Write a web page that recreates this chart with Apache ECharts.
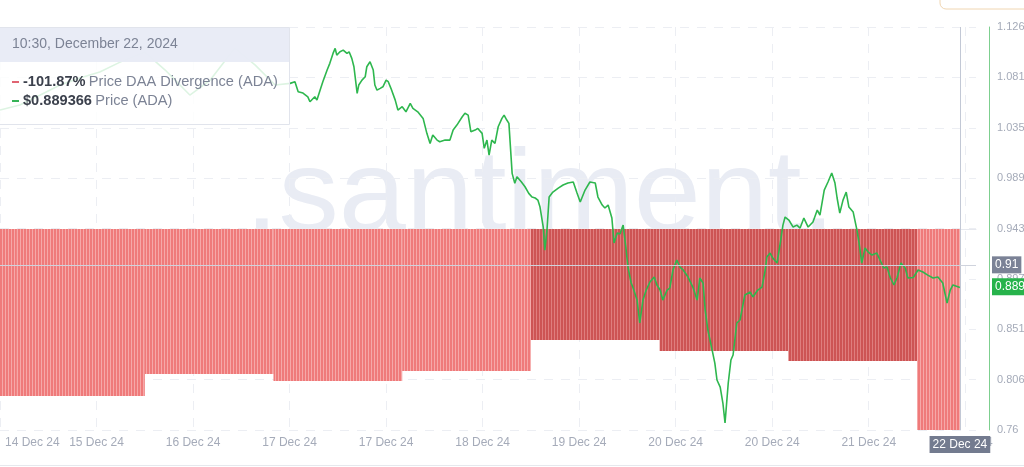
<!DOCTYPE html>
<html><head><meta charset="utf-8">
<script src="https://cdn.jsdelivr.net/npm/echarts@6/dist/echarts.min.js"></script>
<style>html,body{margin:0;padding:0;background:#fff;overflow:hidden}#c{width:1024px;height:467px}</style>
</head><body><div id="c"></div><script>
// time origin of the x axis (hours are counted from here, UTC used as display time)
const START_UTC = Date.UTC(2024, 11, 14, 23, 30);
const X_TICK_HOURS = 18;
const X_MAX_HOURS = 182;
const MONTHS = ['Jan','Feb','Mar','Apr','May','Jun','Jul','Aug','Sep','Oct','Nov','Dec'];

// right axis tick labels (price, USD)
const priceTickLabels = ['0.76','0.806','0.851','0.897','0.943','0.989','1.035','1.081','1.126'];
const PRICE_MIN = 0.76, PRICE_MAX = 1.126;

// daily Price DAA Divergence (%) : day start (hours from origin) and value
const divDayStartHours = [-21, 3, 27, 51, 75, 99, 123, 147, 171];
const divValues = [-84.64, -84.64, -73.49, -77.04, -71.97, -56.26, -61.83, -66.90, -101.87];
const darkDayIndexes = [5, 6, 7];

// ADA price: [hours from origin, price]
const pricePoints = [
[0,1.0506],[3.7,1.0551],[7.5,1.0642],[11.2,1.0733],[14.9,1.0796],[18.6,1.0851],[22.4,1.0941],[27.0,1.1032],[30.8,1.0869],[35.4,1.0642],[39.2,1.0778],[43.8,1.1069],[47.6,1.0914],[51.3,1.0733],
[54.1,1.0748],[55.0,1.0763],[55.6,1.0672],[56.5,1.0660],[57.4,1.0626],[57.8,1.0581],[58.7,1.0626],[59.1,1.0596],[59.7,1.0687],[60.2,1.0763],[61.0,1.0869],[61.5,1.0930],[62.1,1.1020],[62.5,1.1066],[62.8,1.1005],[63.4,1.1035],[64.0,1.1050],[64.7,1.1020],[65.1,1.1035],[65.6,1.0975],[66.0,1.0899],[66.6,1.0657],[66.9,1.0733],[67.5,1.0778],[68.1,1.0808],[68.4,1.0899],[69.0,1.0944],[69.6,1.0869],[69.9,1.0733],[70.3,1.0687],[70.9,1.0703],[71.4,1.0717],[72.0,1.0778],[72.4,1.0763],[72.9,1.0703],[73.7,1.0596],[74.2,1.0506],[75.0,1.0536],[75.7,1.0490],[76.5,1.0566],[77.0,1.0521],[77.9,1.0490],[78.9,1.0430],[79.6,1.0294],[80.2,1.0203],[80.7,1.0279],[81.5,1.0233],[82.0,1.0218],[83.0,1.0233],[83.9,1.0233],[84.5,1.0324],[85.2,1.0369],[86.2,1.0445],[86.7,1.0476],[87.3,1.0460],[87.8,1.0309],[88.6,1.0324],[89.1,1.0339],[89.9,1.0294],[90.3,1.0158],[90.8,1.0233],[91.2,1.0097],[91.7,1.0233],[92.3,1.0203],[92.9,1.0354],[93.6,1.0430],[94.0,1.0460],[94.5,1.0415],[94.9,1.0385],[95.5,0.9931],[96.0,0.9840],[96.4,0.9900],[97.2,0.9855],[97.9,0.9809],[98.6,0.9749],[99.2,0.9716],[99.8,0.9707],[100.3,0.9688],[100.7,0.9625],[101.3,0.9443],[101.6,0.9234],[102.0,0.9416],[102.4,0.9716],[103.1,0.9761],[104.1,0.9797],[105.0,0.9825],[105.9,0.9843],[106.9,0.9852],[107.6,0.9752],[108.2,0.9670],[109.1,0.9779],[110.0,0.9852],[111.0,0.9843],[111.5,0.9716],[112.3,0.9643],[112.8,0.9616],[113.4,0.9643],[114.1,0.9525],[114.5,0.9298],[115.1,0.9389],[115.6,0.9380],[116.2,0.9461],[116.7,0.9262],[117.1,0.9080],[117.7,0.8935],[118.0,0.8898],[118.8,0.8780],[119.3,0.8572],[119.9,0.8780],[120.5,0.8871],[121.2,0.8944],[122.0,0.8989],[122.5,0.8917],[123.1,0.8871],[123.6,0.8780],[124.4,0.8871],[124.9,0.8889],[125.5,0.9053],[126.2,0.9144],[126.8,0.9080],[127.4,0.9053],[128.3,0.8989],[129.2,0.8898],[130.0,0.8780],[130.5,0.8980],[131.1,0.8935],[131.5,0.8690],[132.0,0.8508],[132.8,0.8326],[133.3,0.8208],[133.7,0.8054],[134.3,0.7990],[134.8,0.7845],[135.2,0.7664],[135.8,0.8027],[136.3,0.8236],[136.7,0.8281],[137.4,0.8572],[138.0,0.8599],[138.6,0.8753],[138.9,0.8826],[139.9,0.8853],[140.4,0.8808],[141.3,0.8871],[142.1,0.8898],[142.7,0.9053],[143.0,0.9171],[143.6,0.9207],[144.1,0.9162],[144.9,0.9116],[145.5,0.9298],[146.0,0.9461],[146.4,0.9534],[147.1,0.9507],[147.9,0.9443],[148.6,0.9461],[149.2,0.9434],[149.9,0.9525],[150.7,0.9443],[151.6,0.9489],[152.4,0.9598],[152.9,0.9552],[153.7,0.9779],[154.4,0.9852],[155.1,0.9934],[155.7,0.9843],[156.1,0.9707],[156.6,0.9570],[157.2,0.9688],[157.8,0.9761],[158.3,0.9625],[159.1,0.9579],[159.8,0.9416],[160.2,0.9298],[160.7,0.9116],[161.3,0.9253],[161.9,0.9216],[162.6,0.9189],[163.5,0.9207],[164.1,0.9144],[164.8,0.9071],[165.4,0.9080],[166.0,0.8985],[166.7,0.8917],[167.3,0.8985],[168.0,0.9116],[168.8,0.9071],[169.3,0.8980],[170.3,0.8985],[171.2,0.9053],[172.1,0.9035],[173.0,0.9007],[174.0,0.8980],[174.9,0.8989],[175.8,0.8935],[176.6,0.8753],[177.2,0.8871],[177.7,0.8917],[179,0.889366]
];

const CROSSHAIR_PRICE = 0.91;
const TOOLTIP_TITLE = '10:30, December 22, 2024';

const lastPoint = pricePoints[pricePoints.length - 1];
const lastHour = lastPoint[0];
const lastPrice = lastPoint[1];
const lastDiv = divValues[divValues.length - 1];

function fmtDate(h) {
  const d = new Date(START_UTC + h * 3600e3);
  return d.getUTCDate() + ' ' + MONTHS[d.getUTCMonth()] + ' ' + String(d.getUTCFullYear()).slice(2);
}

function stripe(base, light) {
  const c = document.createElement('canvas');
  c.width = 3; c.height = 8;
  const g = c.getContext('2d');
  g.fillStyle = base; g.fillRect(0, 0, 3, 8);
  g.fillStyle = light; g.fillRect(2, 0, 1, 8);
  return c;
}
const lightPat = { image: stripe('#ef7a7a', '#f6a8a8'), repeat: 'repeat' };
const darkPat = { image: stripe('#cd5454', '#df7e7e'), repeat: 'repeat' };

const divData = divDayStartHours.map((s, i) => [s, Math.min(s + 24, lastHour), divValues[i]]);

const FONT = 'Liberation Sans, Arial, sans-serif';
const chart = echarts.init(document.getElementById('c'), null, { renderer: 'canvas' });

chart.setOption({
  animation: false,
  backgroundColor: '#ffffff',
  grid: { left: 0, right: 48, top: 27, bottom: 37, containLabel: false, outerBoundsMode: 'none' },
  xAxis: {
    type: 'value', min: 0, max: X_MAX_HOURS, interval: X_TICK_HOURS,
    axisLine: { show: true, lineStyle: { color: '#e6e8ee' } },
    axisTick: { show: false },
    splitLine: { show: true, showMaxLine: false, lineStyle: { color: '#eceef3', type: [9, 8] } },
    axisLabel: {
      color: '#a5abb9', fontSize: 12, fontFamily: FONT, margin: 7,
      showMaxLabel: false, alignMinLabel: 'left',
      formatter: (v, i) => i === 0 ? '{p|' + fmtDate(v) + '}' : fmtDate(v),
      rich: { p: { padding: [0, 0, 0, 5], color: '#a5abb9', fontSize: 12, fontFamily: FONT } }
    }
  },
  yAxis: [
    { type: 'value', min: PRICE_MIN, max: PRICE_MAX, show: false },
    { type: 'value', min: lastDiv, max: -lastDiv * 202 / 201, show: false },
    {
      type: 'value', position: 'right', offset: 13, min: 0, max: priceTickLabels.length - 1, interval: 1,
      axisLine: { show: true, lineStyle: { color: '#7dcf8f', width: 1 } },
      axisTick: { show: false },
      splitLine: { show: true, lineStyle: { color: '#eceef3', type: [9, 8] } },
      axisLabel: { color: '#a5abb9', fontSize: 11, fontFamily: FONT, margin: 8,
        formatter: v => priceTickLabels[Math.round(v)] }
    }
  ],
  graphic: [
    { type: 'text', z: 0, silent: true, x: 245, y: 199, scaleX: 1.04,
      style: { text: '.santiment.', x: 0, y: 0, font: '116px ' + FONT, fill: '#e9ecf4', verticalAlign: 'middle' } },
    { type: 'rect', z: 100, silent: true, shape: { x: 940, y: -14, width: 110, height: 23, r: 6 },
      style: { fill: '#ffffff', stroke: '#f0d6b2', lineWidth: 1 } },
    { type: 'line', z: 100, silent: true, shape: { x1: 0, y1: 465.5, x2: 1024, y2: 465.5 },
      style: { stroke: '#e6e8ed', lineWidth: 1 } },
    { type: 'rect', z: 100, silent: true, shape: { x: -1.5, y: 27.5, width: 291, height: 97 },
      style: { fill: 'rgba(255,255,255,0.84)', stroke: '#e1e4ec', lineWidth: 1 } },
    { type: 'rect', z: 101, silent: true, shape: { x: -1, y: 28, width: 290, height: 34 },
      style: { fill: 'rgba(232,235,246,0.96)' } },
    { type: 'text', z: 102, silent: true,
      style: { text: TOOLTIP_TITLE, x: 12, y: 44, font: '14px ' + FONT, fill: '#7c8395', verticalAlign: 'middle' } },
    { type: 'line', z: 102, silent: true, shape: { x1: 12, y1: 82, x2: 19, y2: 82 },
      style: { stroke: '#e06472', lineWidth: 2 } },
    { type: 'line', z: 102, silent: true, shape: { x1: 12, y1: 101, x2: 19, y2: 101 },
      style: { stroke: '#35b356', lineWidth: 2 } },
    { type: 'text', z: 102, silent: true,
      style: { x: 23, y: 82, verticalAlign: 'middle',
        text: '{b|' + lastDiv.toFixed(2) + '%} {n|Price DAA Divergence (ADA)}',
        rich: { b: { font: 'bold 14.6px ' + FONT, fill: '#3b404c' }, n: { font: '14.6px ' + FONT, fill: '#7c8395' } } } },
    { type: 'text', z: 102, silent: true,
      style: { x: 23, y: 101, verticalAlign: 'middle',
        text: '{b|$' + lastPrice.toFixed(6) + '} {n|Price (ADA)}',
        rich: { b: { font: 'bold 14.6px ' + FONT, fill: '#3b404c' }, n: { font: '14.6px ' + FONT, fill: '#7c8395' } } } }
  ],
  series: [
    {
      type: 'custom', name: 'Price DAA Divergence (ADA)', xAxisIndex: 0, yAxisIndex: 1, z: 2,
      encode: { x: [0, 1], y: 2 }, data: divData, silent: true, clip: true,
      renderItem: (params, api) => {
        const a = api.coord([api.value(0), 0]);
        const b = api.coord([api.value(1), api.value(2)]);
        const cs = params.coordSys;
        const r = echarts.graphic.clipRectByRect(
          { x: a[0], y: a[1], width: b[0] - a[0], height: b[1] - a[1] },
          { x: cs.x, y: cs.y, width: cs.width, height: cs.height });
        if (!r) return;
        return { type: 'rect', shape: r,
          style: { fill: darkDayIndexes.indexOf(params.dataIndex) >= 0 ? darkPat : lightPat } };
      }
    },
    {
      type: 'line', name: 'Price (ADA)', xAxisIndex: 0, yAxisIndex: 0, z: 3,
      data: pricePoints, showSymbol: false, smooth: false,
      lineStyle: { color: '#2eb74e', width: 1.6 }, itemStyle: { color: '#2eb74e' },
      markLine: {
        silent: true, symbol: 'none', animation: false,
        data: [
          { xAxis: lastHour, lineStyle: { color: '#c2c8d5', width: 1, type: 'solid' },
            label: { show: true, position: 'start', distance: 6, formatter: fmtDate(lastHour),
              backgroundColor: '#737b8f', color: '#ffffff', padding: [3, 3, 2, 3], fontSize: 12, fontFamily: FONT } },
          { yAxis: CROSSHAIR_PRICE, lineStyle: { color: '#cfd3dd', width: 1, type: 'solid' },
            label: { show: true, position: 'end', distance: 16, formatter: String(CROSSHAIR_PRICE),
              backgroundColor: '#7b8296', color: '#ffffff', padding: [3, 3, 2, 3], fontSize: 12, fontFamily: FONT } },
          { yAxis: lastPrice, lineStyle: { color: 'rgba(0,0,0,0)', width: 1 },
            label: { show: true, position: 'end', distance: 16, formatter: lastPrice.toFixed(3),
              backgroundColor: '#27b34b', color: '#ffffff', padding: [3, 4, 2, 3], fontSize: 12, fontFamily: FONT } }
        ]
      }
    }
  ]
});
</script></body></html>
